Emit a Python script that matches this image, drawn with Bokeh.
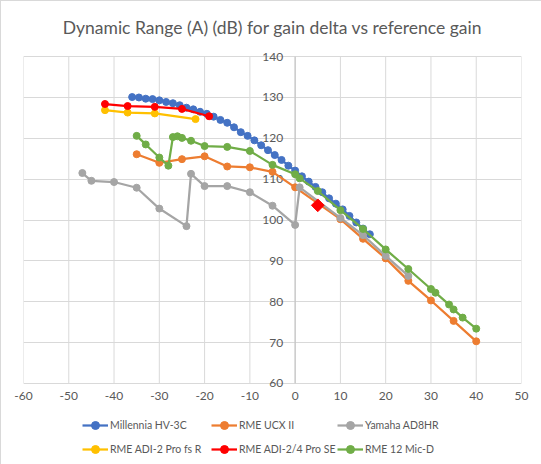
import numpy as np
from bokeh.plotting import figure
from bokeh.layouts import column
from bokeh.models import Range1d, FixedTicker, Legend, LegendItem
from bokeh.core.properties import value
from bokeh.embed import file_html
from bokeh.resources import INLINE

# ---- data ----
x_ticks = [-60, -50, -40, -30, -20, -10, 0, 10, 20, 30, 40, 50]
x_tick_labels = ["-60", "-50", "-40", "-30", "-20", "-10", "0", "10", "20", "30", "40", "50"]
y_ticks = [60, 70, 80, 90, 100, 110, 120, 130, 140]
y_tick_labels = ["60", "70", "80", "90", "100", "110", "120", "130", "140"]
y_axis_cross = 0  # the vertical axis crosses the horizontal one at x = 0

mill_x = [-36, -34.5, -33, -31.5, -30, -28.5, -27, -25.5, -24, -22.5, -21, -19.5,
          -18, -16.5, -15, -13.5, -12, -10.5, -9, -7.5, -6, -4.5, -3, -1.5,
          0, 1.5, 3, 4.5, 6, 7.5, 9, 10.5, 12, 13.5, 15, 16.5]
mill_y = [130.1, 130.0, 129.7, 129.6, 129.3, 128.9, 128.6, 128.1, 127.5, 127.1, 126.5, 126.0,
          125.3, 124.5, 123.8, 122.7, 121.5, 120.6, 119.5, 118.3, 117.1, 115.9, 114.7, 113.3,
          112.1, 110.7, 109.4, 108.1, 106.8, 105.3, 104.0, 102.6, 101.0, 99.4, 97.9, 96.5]

ucx_x = [-35, -30, -25, -20, -15, -10, -5, 0, 10, 15, 20, 25, 30, 35, 40]
ucx_y = [116.1, 114.0, 114.9, 115.6, 113.1, 112.9, 111.8, 108.0, 100.2, 95.4, 90.6, 85.1, 80.3, 75.3, 70.3]

yam_x = [-47, -45, -40, -35, -30, -24, -23, -20, -15, -10, -5, 0, 1, 10, 15, 20, 25]
yam_y = [111.5, 109.6, 109.3, 107.9, 102.8, 98.5, 111.3, 108.3, 108.3, 106.8, 103.5, 98.8, 108.0,
         100.5, 96.3, 91.2, 86.3]

adi2_x = [-42, -37, -31, -22]
adi2_y = [126.9, 126.3, 126.1, 124.7]

adi24_x = [-42, -37, -31, -25, -19]
adi24_y = [128.4, 127.9, 127.7, 127.2, 125.4]

mic_x = [-35, -33, -30, -28, -27, -26, -25, -23, -20, -15, -10, -5, 0, 1, 5, 10, 15, 20,
         25, 30, 31, 34, 35, 37, 40]
mic_y = [120.6, 118.5, 115.3, 113.3, 120.3, 120.5, 120.1, 119.4, 118.1, 117.9, 116.9, 113.5,
         111.2, 110.2, 107.1, 102.4, 97.8, 92.8, 88.0, 83.1, 82.2, 79.3, 78.1, 76.1, 73.4]

ref_x = [5]
ref_y = [103.6]

series = [
    ("Millennia HV-3C", mill_x, mill_y, "#4472C4"),
    ("RME UCX II", ucx_x, ucx_y, "#ED7D31"),
    ("Yamaha AD8HR", yam_x, yam_y, "#A5A5A5"),
    ("RME ADI-2 Pro fs R", adi2_x, adi2_y, "#FFC000"),
    ("RME ADI-2/4 Pro SE", adi24_x, adi24_y, "#FF0000"),
    ("RME 12 Mic-D", mic_x, mic_y, "#70AD47"),
]

FONT = "Lato"
TXT = "#595959"
GRID = "#D9D9D9"

y_lo, y_hi = y_ticks[0], y_ticks[-1]
pad = 1.5  # room so the end tick labels are not clipped

p = figure(width=541, height=408, output_backend="svg", toolbar_location=None,
           x_range=Range1d(x_ticks[0], x_ticks[-1]), y_range=Range1d(y_lo - pad, y_hi + pad),
           y_axis_location=None,
           title="Dynamic Range (A) (dB) for gain delta vs reference gain",
           min_border_left=22, min_border_right=21, min_border_top=44, min_border_bottom=20)

p.title.align = "center"
p.title.vertical_align = "bottom"
p.title.text_font = FONT
p.title.text_font_size = "17.5px"
p.title.text_font_style = "normal"
p.title.text_color = TXT
p.title.standoff = 26

p.outline_line_color = None
p.background_fill_color = "white"
p.border_fill_color = "white"

# horizontal gridlines (span the full x range)
p.ygrid.ticker = FixedTicker(ticks=y_ticks)
p.ygrid.grid_line_color = GRID
p.ygrid.grid_line_width = 1
# vertical gridlines only between the first and last y tick
p.xgrid.visible = False
n = len(x_ticks)
p.segment(x0=x_ticks, y0=[y_lo] * n, x1=x_ticks, y1=[y_hi] * n,
          line_color=GRID, line_width=1)
# vertical axis line at the crossing
p.segment(x0=[y_axis_cross], y0=[y_lo], x1=[y_axis_cross], y1=[y_hi],
          line_color="#BFBFBF", line_width=1)
# vertical axis tick labels, just left of the crossing axis
p.text(x=[y_axis_cross] * len(y_ticks), y=y_ticks, text=y_tick_labels,
       x_offset=-12, text_align="right", text_baseline="middle",
       text_font=value(FONT), text_font_size="12px", text_color=TXT)

p.xaxis.ticker = FixedTicker(ticks=x_ticks)
p.xaxis.major_label_overrides = dict(zip(x_ticks, x_tick_labels))
p.xaxis.axis_line_color = None
p.xaxis.major_tick_line_color = None
p.xaxis.minor_tick_line_color = None
p.xaxis.major_tick_out = 0
p.xaxis.major_label_standoff = 2
p.xaxis.major_label_text_font = FONT
p.xaxis.major_label_text_font_size = "12px"
p.xaxis.major_label_text_color = TXT

# legend-only strip below the chart (series plotted off its visible range)
q = figure(width=541, height=56, output_backend="svg", toolbar_location=None,
           x_range=Range1d(0, 1), y_range=Range1d(0, 1),
           x_axis_location=None, y_axis_location=None,
           min_border_left=0, min_border_right=0, min_border_top=0, min_border_bottom=0)
q.outline_line_color = None
q.xgrid.visible = False
q.ygrid.visible = False

legend_pos = [(59, 30), (188, 30), (314, 30), (59, 6), (188, 6), (314, 6)]

for (name, xs, ys, col), loc in zip(series, legend_pos):
    p.line(xs, ys, line_color=col, line_width=2.25)
    p.scatter(xs, ys, size=7, fill_color=col, line_color=col)
    lr = q.line(xs, ys, line_color=col, line_width=2.25)
    sr = q.scatter(xs, ys, size=7, fill_color=col, line_color=col)
    lg = Legend(items=[LegendItem(label=name, renderers=[lr, sr])], location=loc)
    lg.label_text_font = FONT
    lg.label_text_font_size = "10.5px"
    lg.label_text_color = TXT
    lg.glyph_width = 26
    lg.glyph_height = 20
    lg.label_standoff = 2
    lg.spacing = 0
    lg.border_line_color = None
    lg.background_fill_color = None
    lg.padding = 0
    lg.margin = 0
    q.add_layout(lg, "center")

p.scatter(ref_x, ref_y, marker="square", angle=np.pi / 4, size=9,
          fill_color="#FF0000", line_color="#FF0000")

layout = column(p, q, spacing=0, styles={"border": "1px solid #D9D9D9"})

open("out.html", "w").write(file_html(layout, INLINE))
